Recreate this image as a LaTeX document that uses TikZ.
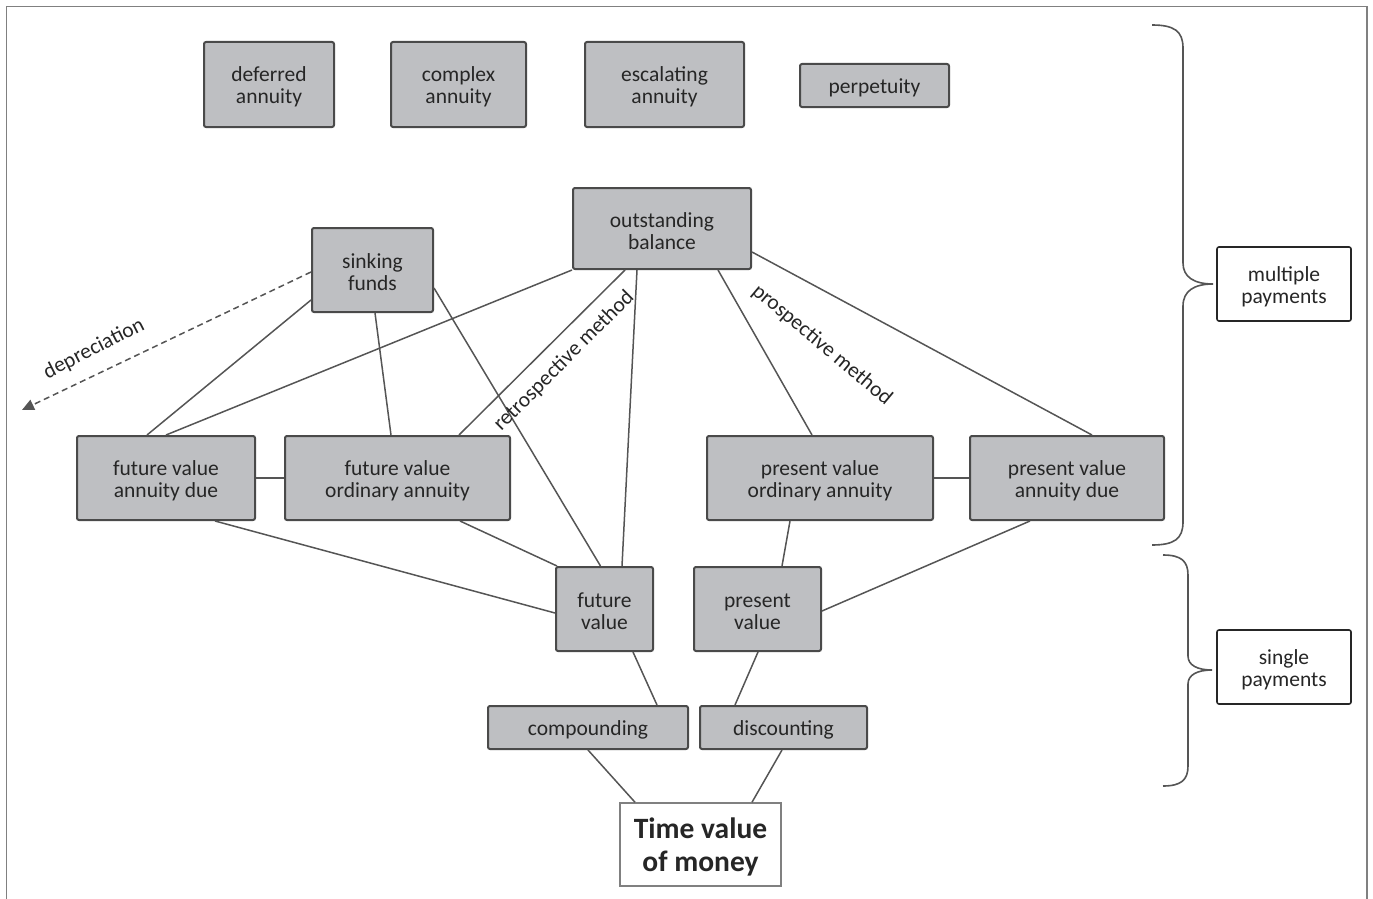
\documentclass[tikz,border=0pt]{standalone}
\usepackage{fontspec}
\setmainfont{Carlito}
\usetikzlibrary{arrows.meta}
\definecolor{boxfill}{HTML}{BEBFC2}
\definecolor{bdr}{HTML}{4A4A4A}
\definecolor{txt}{HTML}{262626}
\definecolor{lnc}{HTML}{555555}
\definecolor{frm}{HTML}{808080}
\newcommand{\upstrut}{\rule{0pt}{19.5pt}}
\tikzset{
  gbox/.style={draw=bdr, fill=boxfill, line width=2pt, rounded corners=2pt, align=center, inner sep=0pt, text=txt, font=\fontsize{21.5}{22}\selectfont},
  wbox/.style={draw=txt, fill=white, line width=1.6pt, rounded corners=2pt, align=center, inner sep=0pt, text=txt, font=\fontsize{21.5}{22}\selectfont},
  conn/.style={draw=lnc, line width=1.5pt},
  lbl/.style={text=txt, font=\fontsize{21.5}{22}\selectfont, inner sep=0pt},
  brc/.style={draw=lnc, line width=1.6pt},
}
\begin{document}
\begin{tikzpicture}[x=1pt,y=-1pt]
\useasboundingbox (0,0) rectangle (1373,899);
\draw[draw=frm, line width=1.5pt] (6.5,905) -- (6.5,6.5) -- (1367,6.5) -- (1367,905);

% top row
\node[gbox, minimum width=130, minimum height=85] (da) at (269,84.5) {\upstrut deferred\\annuity};
\node[gbox, minimum width=135, minimum height=85] (ca) at (458.5,84.5) {\upstrut complex\\annuity};
\node[gbox, minimum width=159, minimum height=85] (ea) at (664.5,84.5) {\upstrut escalating\\annuity};
\node[gbox, minimum width=149, minimum height=43] (pp) at (874.5,85.5) {\upstrut perpetuity};

% middle
\node[gbox, minimum width=178, minimum height=81] (ob) at (662,228.5) {\upstrut outstanding\\balance};
\node[gbox, minimum width=121, minimum height=84] (sf) at (372.5,270) {\upstrut sinking\\funds};

\node[gbox, minimum width=178, minimum height=84] (fvad) at (166,478) {\upstrut future value\\annuity due};
\node[gbox, minimum width=225, minimum height=84] (fvoa) at (397.5,478) {\upstrut future value\\ordinary annuity};
\node[gbox, minimum width=226, minimum height=84] (pvoa) at (820,478) {\upstrut present value\\ordinary annuity};
\node[gbox, minimum width=194, minimum height=84] (pvad) at (1067,478) {\upstrut present value\\annuity due};

\node[gbox, minimum width=97, minimum height=84] (fv) at (604.5,609) {\upstrut future\\value};
\node[gbox, minimum width=127, minimum height=84] (pv) at (757.5,609) {\upstrut present\\value};

\node[gbox, minimum width=200, minimum height=43] (cmp) at (588,727.5) {\upstrut compounding};
\node[gbox, minimum width=167, minimum height=43] (dsc) at (783.5,727.5) {\upstrut discounting};

\node[draw=frm, fill=white, line width=1.5pt, align=center, inner sep=0pt, text=txt, font=\fontsize{29.5}{33}\selectfont\bfseries, minimum width=161, minimum height=83] (tvm) at (700.5,844.5) {\rule{0pt}{25pt}Time value\\of money};

\node[wbox, minimum width=134, minimum height=74] (mp) at (1284,284) {\upstrut multiple\\payments};
\node[wbox, minimum width=134, minimum height=74] (sp) at (1284,667) {\upstrut single\\payments};

% connectors
\draw[conn] ([yshift=-30pt]sf.west) -- ([xshift=-19pt]fvad.north);
\draw[conn] (ob.south west) -- (fvad.north);
\draw[conn] ([xshift=2.5pt]sf.south) -- ([xshift=-6.5pt]fvoa.north);
\draw[conn] ([yshift=-18pt]sf.east) -- ([xshift=-4pt]fv.north);
\draw[conn] ([xshift=-37pt]ob.south) -- ([xshift=61.5pt]fvoa.north);
\draw[conn] ([xshift=-25pt]ob.south) -- ([xshift=17.5pt]fv.north);
\draw[conn] ([xshift=56pt]ob.south) -- ([xshift=-8pt]pvoa.north);
\draw[conn] ([yshift=-23.5pt]ob.east) -- ([xshift=25pt]pvad.north);
\draw[conn] (fvad.east) -- (fvoa.west);
\draw[conn] (pvoa.east) -- (pvad.west);
\draw[conn] ([xshift=49pt]fvad.south) -- ([yshift=-4pt]fv.west);
\draw[conn] ([xshift=62.5pt]fvoa.south) -- ([xshift=2pt]fv.north west);
\draw[conn] ([xshift=-30pt]pvoa.south) -- ([xshift=24.5pt]pv.north);
\draw[conn] ([xshift=-37pt]pvad.south) -- ([yshift=-2pt]pv.east);
\draw[conn] ([xshift=28.5pt]fv.south) -- ([xshift=69pt]cmp.north);
\draw[conn] ([xshift=0.5pt]pv.south) -- ([xshift=-48.5pt]dsc.north);
\draw[conn] (cmp.south) -- ([xshift=-65.5pt]tvm.north);
\draw[conn] ([xshift=-1.5pt]dsc.south) -- ([xshift=51.5pt]tvm.north);

% depreciation
\coordinate (dep) at (22,410);
\draw[conn, dash pattern=on 6pt off 4pt, -{Triangle[length=12pt,width=11pt]}] ([yshift=-2pt]sf.west) -- (dep);
\node[lbl, rotate=27] (deplbl) at (94,349) {depreciation};

% method labels
\node[lbl, rotate=45] (retro) at (564,361) {retrospective method};
\node[lbl, rotate=-40] (prosp) at (822,345) {prospective method};

% braces
\draw[brc] (1152,25) .. controls (1174,25) and (1183,31) .. (1183,48) -- (1183,263)
  .. controls (1183,277) and (1194,284) .. (1213,284)
  .. controls (1194,284) and (1183,291) .. (1183,306) -- (1183,522)
  .. controls (1183,539) and (1174,545) .. (1152,545);
\draw[brc] (1163,555) .. controls (1181,555) and (1188,561) .. (1188,575) -- (1188,656)
  .. controls (1188,665) and (1197,670) .. (1212,670)
  .. controls (1197,670) and (1188,675) .. (1188,684) -- (1188,766)
  .. controls (1188,780) and (1181,786) .. (1163,786);
\end{tikzpicture}
\end{document}
